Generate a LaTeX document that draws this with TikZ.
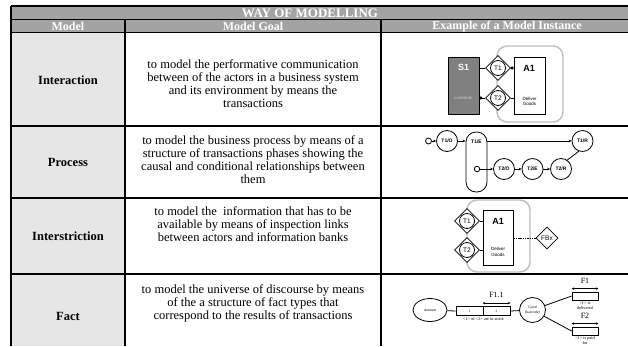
\documentclass[tikz,border=0pt]{standalone}
\usepackage{fontspec}
\setmainfont{Liberation Serif}
\newfontfamily\arialfont{Liberation Sans}
\usetikzlibrary{shapes.geometric,arrows.meta,positioning}

\definecolor{headgray}{HTML}{A3A3A3}
\definecolor{cellgray}{HTML}{E6E6E6}
\definecolor{actorgray}{HTML}{808080}
\definecolor{boundgray}{HTML}{BDBDBD}
\definecolor{lightlbl}{HTML}{C8C8C8}

\tikzset{
  headtxt/.style={text=white, font=\fontsize{12}{13}\selectfont\bfseries},
  modelname/.style={font=\fontsize{12.5}{14}\selectfont\bfseries},
  goal/.style={align=center, font=\fontsize{12.5}{13}\selectfont},
  trans/.style={diamond, draw, thick, fill=white, minimum size=25pt, inner sep=0pt},
  tcirc/.style={circle, draw, thick, minimum size=15pt, inner sep=0pt, font=\arialfont\fontsize{6.5}{7}\selectfont},
  actorbox/.style={draw, thick, minimum width=31pt, minimum height=57pt, inner sep=0pt},
  bigid/.style={font=\arialfont\fontsize{9}{10}\selectfont\bfseries},
  smalltxt/.style={align=center, font=\arialfont\fontsize{4.5}{5.5}\selectfont},
  phase/.style={circle, draw, thick, minimum size=21pt, inner sep=0pt, font=\arialfont\fontsize{5}{6}\selectfont\bfseries},
  phasetxt/.style={font=\arialfont\fontsize{5}{6}\selectfont\bfseries},
  dot/.style={circle, draw, thick, fill=white, inner sep=0pt},
  arr/.style={thick, -{Stealth[length=3pt,width=2.6pt]}},
  bound/.style={draw=boundgray, line width=1.4pt, rounded corners=10pt},
  factrole/.style={draw, thick, minimum width=27pt, minimum height=9pt, inner sep=0pt, font=\fontsize{3.5}{4}\selectfont},
  ovalobj/.style={ellipse, draw, thick, inner sep=0pt, align=center, font=\fontsize{3.8}{4.5}\selectfont},
  tinytxt/.style={align=center, inner sep=0.5pt, font=\fontsize{4.3}{5}\selectfont},
  flabel/.style={inner sep=0pt, font=\fontsize{8}{9}\selectfont},
  dbl/.style={line width=0.9pt, {Stealth[length=2.5pt,width=2.5pt]}-{Stealth[length=2.5pt,width=2.5pt]}}
}

\begin{document}
\begin{tikzpicture}[x=1pt,y=-1pt]
\clip (0,0) rectangle (628,346);
\fill[white] (0,0) rectangle (628,346);

\fill[headgray] (11,6) rectangle (632,32.5);
\fill[cellgray] (11,32.5) rectangle (125,346);
\draw[line width=1.2pt] (11,6) -- (632,6);
\draw[line width=0.8pt] (11,19.5) -- (632,19.5);
\foreach \y in {32.5,126,198,274}
  \draw[line width=1.4pt] (11,\y) -- (632,\y);
\draw[line width=1.4pt] (11,6) -- (11,346);
\foreach \x in {125,381}
  \draw[line width=1.4pt] (\x,19.5) -- (\x,346);

\node[headtxt, font=\fontsize{13}{14}\selectfont\bfseries] (title) at (310,13) {WAY OF MODELLING};
\node[headtxt] (hmodel) at (68,26.3) {Model};
\node[headtxt] (hgoal) at (253,26.3) {Model Goal};
\node[headtxt] (hexample) at (507,26.3) {Example of a Model Instance};

\node[modelname] (interaction) at (68,80) {Interaction};
\node[modelname] (process) at (68,162) {Process};
\node[modelname] (interstriction) at (68,236) {Interstriction};
\node[modelname] (fact) at (68,316) {Fact};

\node[goal] (ginteraction) at (253,84) {to model the performative communication\\between of the actors in a business system\\and its environment by means the\\transactions};
\node[goal] (gprocess) at (253,159.5) {to model the business process by means of a\\structure of transactions phases showing the\\causal and conditional relationships between\\them};
\node[goal] (ginterstriction) at (253,224.5) {to model the~ information that has to be\\available by means of inspection links\\between actors and information banks};
\node[goal] (gfact) at (253,303.5) {to model the universe of discourse by means\\of the a structure of fact types that\\correspond to the results of transactions};

% interaction model
\draw[bound] (497,46) rectangle (563,122);
\node[actorbox, fill=actorgray] (S1) at (463.5,85.5) {};
\node[bigid, text=white] (S1id) at (463.5,67.5) {S1};
\node[smalltxt, text=lightlbl] (S1txt) at (463.5,98) {customer};
\node[actorbox, fill=white] (A1) at (529.5,85.5) {};
\node[bigid] (A1id) at (529,68) {A1};
\node[smalltxt] (A1txt) at (529.5,101.5) {Deliver\\Goods};
\node[trans] (T1d) at (498,68) {};
\node[tcirc] (T1c) at (498,68) {T1};
\node[trans] (T2d) at (498,98) {};
\node[tcirc] (T2c) at (498,98) {T2};
\draw[thick] (T1d.west) -- (T1d.west -| S1.east);
\draw[thick, -{Circle[length=3pt]}] (T1d.east) -- (T1d.east -| A1.west);
\draw[thick, {Circle[length=3pt]}-] (T2d.west -| S1.east) -- (T2d.west);
\draw[thick] (T2d.east) -- (T2d.east -| A1.west);

% process model
\node[dot, minimum size=6pt] (start) at (428.5,141) {};
\node[phase] (T1O) at (447,141) {T1/O};
\node[draw, thick, rounded corners=10pt, minimum width=21pt, minimum height=60pt] (T1E) at (476.5,162) {};
\node[phasetxt, below=5pt of T1E.north] (T1Etxt) {T1/E};
\node[dot, minimum size=5.5pt] (T1Ec) at (477,169) {};
\node[phase] (T1R) at (582.5,141) {T1/R};
\node[phase] (T2O) at (504,169) {T2/O};
\node[phase] (T2E) at (532.5,169) {T2/E};
\node[phase] (T2R) at (561,169) {T2/R};
\draw[arr] (start) -- (T1O);
\draw[arr] (T1O.east) -- (T1O.east -| T1E.west);
\draw[arr] (T1O.east -| T1E.east) -- (T1R.west);
\draw[arr] (T1Ec) -- (T2O);
\draw[arr] (T2O) -- (T2E);
\draw[arr] (T2E) -- (T2R);
\draw[thick] (T2R.55) -- (T1R.250);

% interstriction model
\draw[bound] (467,200) rectangle (530,272);
\node[actorbox, fill=white, minimum width=30pt, minimum height=55pt] (A1b) at (498,237.5) {};
\node[bigid] (A1bid) at (498,221) {A1};
\node[smalltxt] (A1btxt) at (498,252) {Deliver\\Goods};
\node[trans] (T1bd) at (467,221) {};
\node[tcirc] (T1bc) at (467,221) {T1};
\node[trans] (T2bd) at (467,250) {};
\node[tcirc] (T2bc) at (467,250) {T2};
\node[diamond, draw, thick, minimum size=22pt, inner sep=0pt, font=\arialfont\fontsize{6.5}{7}\selectfont] (FBx) at (547,238) {FBx};
\draw[thick] (T1bd.east) -- (T1bd.east -| A1b.west);
\draw[thick] (T2bd.east) -- (T2bd.east -| A1b.west);
\draw[thick, dash pattern=on 1.5pt off 0.8pt] (FBx.west -| A1b.east) -- (FBx.west);

% fact model
\node[ovalobj, minimum width=34pt, minimum height=23pt] (amount) at (430,310) {Amount};
\node[factrole] (F11a) at (469.5,311) {1};
\node[factrole] (F11b) at (496.5,311) {2};
\node[tinytxt, below=0.5pt of F11a.south east] (F11txt) {\textless1\textgreater{} of \textless2\textgreater{} are in stock};
\draw[dbl] ([yshift=3pt]F11b.north west) -- ([yshift=3pt]F11b.north east);
\node[flabel, above=8pt of F11b.north] (F11lbl) {F1.1};
\node[ovalobj, minimum width=26pt, minimum height=25pt] (good) at (532.5,310) {Good\\(barcode)};
\node[factrole, minimum width=26pt, minimum height=8pt] (F1) at (585,296) {};
\draw[dbl] ([yshift=3pt]F1.north west) -- ([yshift=3pt]F1.north east);
\node[flabel, above=8pt of F1.north] (F1lbl) {F1};
\node[tinytxt, below=0.5pt of F1.south] (F1txt) {\textless1\textgreater{} is\\delivered};
\node[factrole, minimum width=26pt, minimum height=8pt] (F2) at (585,331) {};
\draw[dbl] ([yshift=3pt]F2.north west) -- ([yshift=3pt]F2.north east);
\node[flabel, above=8pt of F2.north] (F2lbl) {F2};
\node[tinytxt, below=0.5pt of F2.south] (F2txt) {\textless1\textgreater{} is paid\\for};
\draw[thick] (amount) -- (F11a.west);
\draw[thick] (F11b.east) -- (good);
\draw[thick] (good) -- (F1.west);
\draw[thick] (good) -- (F2.west);
\end{tikzpicture}
\end{document}
